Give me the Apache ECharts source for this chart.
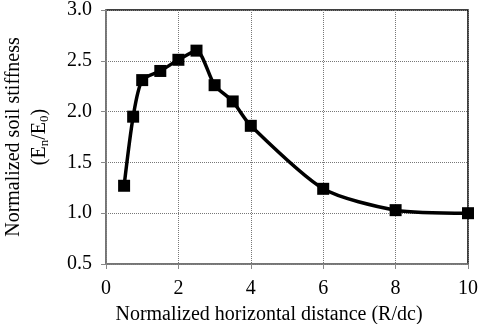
<!DOCTYPE html>
<html><head><meta charset="utf-8">
<script src="https://cdn.jsdelivr.net/npm/echarts@6/dist/echarts.min.js"></script>
<style>html,body{margin:0;padding:0;background:#fff}#c{width:478px;height:324px}</style>
</head><body><div id="c"></div>
<script>
const xValues = [0.5, 0.75, 1.0, 1.5, 2.0, 2.5, 3.0, 3.5, 4.0, 6.0, 8.0, 10.0];
const yValues = [1.27, 1.95, 2.31, 2.40, 2.51, 2.60, 2.26, 2.10, 1.86, 1.24, 1.03, 1.00];
const xTicks = [0, 2, 4, 6, 8, 10];
const yTicks = [0.5, 1.0, 1.5, 2.0, 2.5, 3.0];

const font = "'Liberation Serif', 'Times New Roman', serif";
const chart = echarts.init(document.getElementById('c'), null, {renderer: 'canvas'});
chart.setOption({
  animation: false,
  backgroundColor: '#fff',
  grid: {left: 106, right: 10, top: 10, bottom: 60, containLabel: false, outerBoundsMode: 'none',
    show: true, borderColor: '#000', borderWidth: 1.5, backgroundColor: 'transparent'},
  xAxis: {
    type: 'value', min: xTicks[0], max: xTicks[xTicks.length-1], interval: 2,
    name: 'Normalized horizontal distance (R/dc)', nameLocation: 'middle', nameGap: 41,
    nameTextStyle: {fontFamily: font, fontSize: 20, color: '#000', padding: [0, 36, 0, 0]},
    axisLine: {show: true, lineStyle: {color: '#888', width: 1.5}},
    axisTick: {show: true, length: 5, lineStyle: {color: '#888'}},
    axisLabel: {fontFamily: font, fontSize: 20, color: '#000', margin: 15},
    splitLine: {show: true, lineStyle: {color: '#777', type: [1, 1], width: 1}}
  },
  yAxis: {
    type: 'value', min: yTicks[0], max: yTicks[yTicks.length-1], interval: 0.5,
    name: '{a|Normalized soil stiffness}\n{a|(E}{s|n}{a|/E}{s|0}{a|)}', nameLocation: 'middle', nameGap: 53, nameRotate: 90,
    nameTextStyle: {fontFamily: font, fontSize: 20, color: '#000', lineHeight: 26, align: 'center',
      rich: {a: {fontFamily: font, fontSize: 20, color: '#000', lineHeight: 26},
             s: {fontFamily: font, fontSize: 13, color: '#000', padding: [10, 0, 0, 0], lineHeight: 26}}},
    axisLine: {show: true, lineStyle: {color: '#888', width: 1.5}},
    axisTick: {show: true, length: 5, lineStyle: {color: '#888'}},
    axisLabel: {fontFamily: font, fontSize: 20, color: '#000', margin: 14, formatter: v => v.toFixed(1)},
    splitLine: {show: true, lineStyle: {color: '#777', type: [1, 1], width: 1}}
  },
  series: [{
    type: 'line',
    data: xValues.map((x, i) => [x, yValues[i]]),
    smooth: 0.25,
    symbol: 'rect', symbolSize: 12,
    lineStyle: {color: '#000', width: 3.5},
    itemStyle: {color: '#000'}
  }]
});
</script></body></html>
